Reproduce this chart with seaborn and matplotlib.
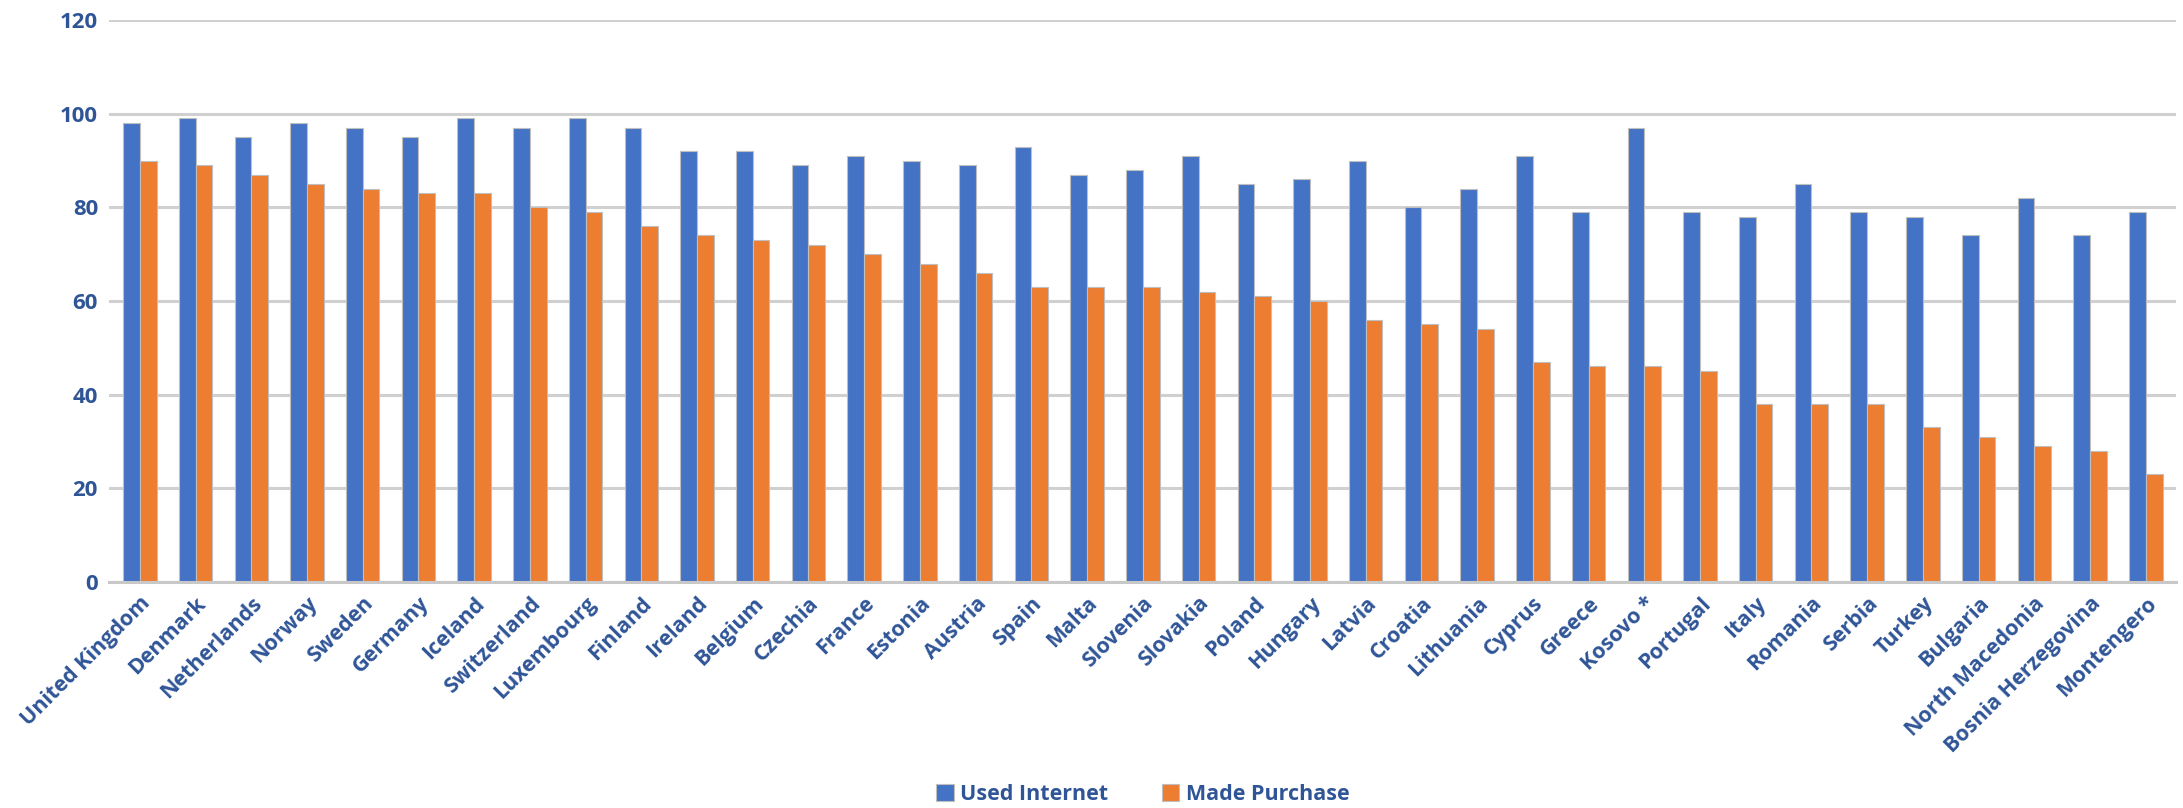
import matplotlib
matplotlib.use("Agg")
import matplotlib.pyplot as plt
import seaborn as sns
import pandas as pd

countries = ["United Kingdom", "Denmark", "Netherlands", "Norway", "Sweden", "Germany",
             "Iceland", "Switzerland", "Luxembourg", "Finland", "Ireland", "Belgium",
             "Czechia", "France", "Estonia", "Austria", "Spain", "Malta", "Slovenia",
             "Slovakia", "Poland", "Hungary", "Latvia", "Croatia", "Lithuania", "Cyprus",
             "Greece", "Kosovo *", "Portugal", "Italy", "Romania", "Serbia", "Turkey",
             "Bulgaria", "North Macedonia", "Bosnia Herzegovina", "Montengero"]
used_internet = [98, 99, 95, 98, 97, 95, 99, 97, 99, 97, 92, 92, 89, 91, 90, 89, 93, 87, 88,
                 91, 85, 86, 90, 80, 84, 91, 79, 97, 79, 78, 85, 79, 78, 74, 82, 74, 79]
made_purchase = [90, 89, 87, 85, 84, 83, 83, 80, 79, 76, 74, 73, 72, 70, 68, 66, 63, 63, 63,
                 62, 61, 60, 56, 55, 54, 47, 46, 46, 45, 38, 38, 38, 33, 31, 29, 28, 23]
series_names = ["Used Internet", "Made Purchase"]
yticks = [0, 20, 40, 60, 80, 100, 120]

df = pd.DataFrame({
    "Country": countries * 2,
    "Value": used_internet + made_purchase,
    "Series": [series_names[0]] * len(countries) + [series_names[1]] * len(countries),
})

sns.set_theme(style="white")
plt.rcParams["font.family"] = ["Open Sans", "DejaVu Sans"]
text_color = "#2F5597"

fig = plt.figure(figsize=(21.83, 8.08), dpi=100)
ax = fig.add_axes([0.05, 0.28, 0.947, 0.695])

sns.barplot(data=df, x="Country", y="Value", hue="Series",
            palette=["#4472C4", "#ED7D31"], saturation=1, width=0.6, ax=ax,
            edgecolor="#BFBFBF", linewidth=0.8, legend=True)

ax.set_ylim(0, 120)
ax.set_yticks(yticks)
ax.set_xlim(-0.55, len(countries) - 0.45)
ax.yaxis.grid(True, color="#D0D0D0", linewidth=2.2)
ax.set_axisbelow(True)
for s in ["top", "right", "left"]:
    ax.spines[s].set_visible(False)
ax.spines["bottom"].set_color("#C8C8C8")
ax.spines["bottom"].set_linewidth(2.2)
ax.set_xlabel("")
ax.set_ylabel("")
ax.tick_params(axis="both", length=0, pad=8)
ax.set_yticklabels([str(v) for v in yticks], fontsize=16, fontweight="bold", color=text_color)
ax.set_xticks(range(len(countries)))
ax.set_xticklabels(countries, rotation=45, ha="right", rotation_mode="anchor",
                   fontsize=15.5, fontweight="bold", color=text_color)

handles, labels = ax.get_legend_handles_labels()
ax.legend(handles, labels, loc="lower center", bbox_to_anchor=(0.5, -0.432),
          ncol=2, frameon=False, handlelength=0.8, handleheight=0.8,
          handletextpad=0.3, columnspacing=2.5,
          prop={"size": 15.5, "weight": "bold"}, labelcolor=text_color)

fig.savefig("out.png", dpi=100, facecolor="white")
